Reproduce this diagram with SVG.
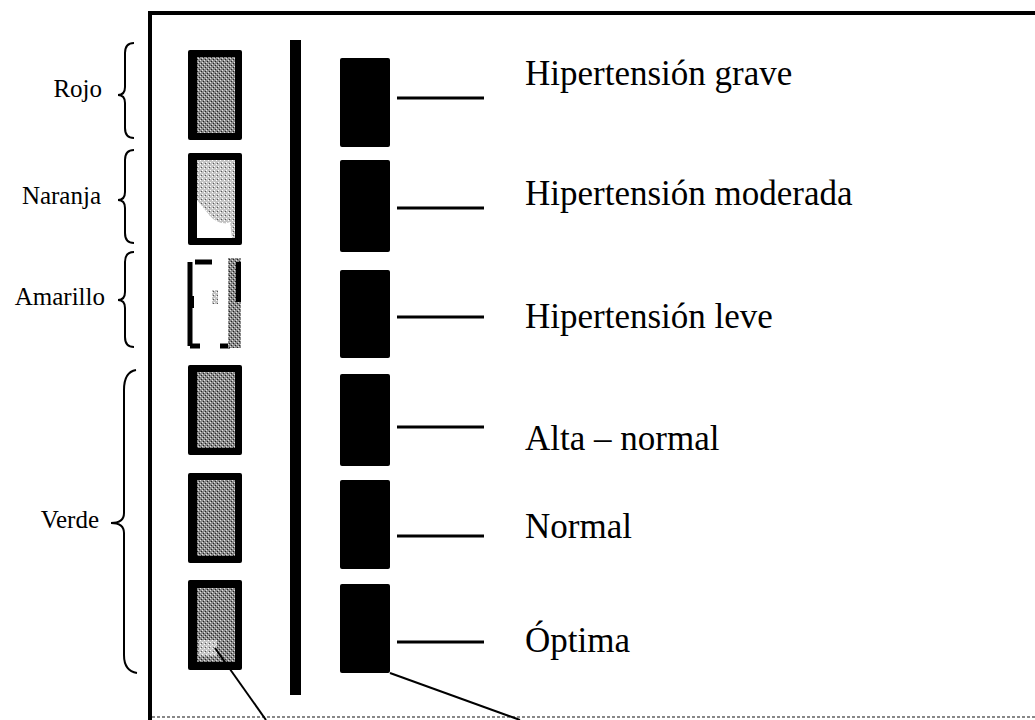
<svg xmlns="http://www.w3.org/2000/svg" width="1035" height="720" viewBox="0 0 1035 720">
<style>
.lbl{font-family:"Liberation Serif","Times New Roman",serif;font-size:25px;fill:#000;text-anchor:end}
.cat{font-family:"Liberation Serif","Times New Roman",serif;font-size:35px;fill:#000}
.brace{fill:none;stroke:#000;stroke-width:2}
.sw{fill:#000}
.bar{fill:#000}
.conn{stroke:#000;stroke-width:3;fill:none}
.ptr{stroke:#000;stroke-width:2;fill:none}
</style>
<defs>
<pattern id="dith" width="4" height="4" patternUnits="userSpaceOnUse">
<rect width="4" height="4" fill="#8a8a8a"/>
<rect width="1" height="1" fill="#e0e0e0"/>
<rect x="2" y="2" width="1" height="1" fill="#e0e0e0"/>
<rect x="1" y="3" width="1" height="1" fill="#222"/>
<rect x="3" y="1" width="1" height="1" fill="#222"/>
</pattern>
<pattern id="dithL" width="4" height="4" patternUnits="userSpaceOnUse">
<rect width="4" height="4" fill="#c4c4c4"/>
<rect width="1" height="1" fill="#fff"/>
<rect x="2" y="2" width="1" height="1" fill="#fff"/>
<rect x="1" y="3" width="1" height="1" fill="#555"/>
</pattern>
</defs>
<rect width="1035" height="720" fill="#fff"/>

<g id="frame">
<line x1="150" y1="11" x2="150" y2="720" stroke="#000" stroke-width="4"/>
<line x1="148" y1="13" x2="1035" y2="13" stroke="#000" stroke-width="4"/>
<line x1="152" y1="717" x2="1035" y2="717" stroke="#888" stroke-width="2" stroke-dasharray="3 2"/>
</g>

<g id="group-rojo">
<path class="brace" d="M134 43 Q125 43 125 53 L125 87 Q125 95 118 95 Q125 95 125 103 L125 128 Q125 138 134 138"/>
<text class="lbl" x="102" y="97">Rojo</text>
</g>
<g id="group-naranja">
<path class="brace" d="M134 150 Q125 150 125 160 L125 192 Q125 200 118 200 Q125 200 125 208 L125 233 Q125 243 134 243"/>
<text class="lbl" x="101" y="204">Naranja</text>
</g>
<g id="group-amarillo">
<path class="brace" d="M134 252 Q125 252 125 262 L125 292 Q125 300 118 300 Q125 300 125 308 L125 337 Q125 347 134 347"/>
<text class="lbl" x="105" y="305">Amarillo</text>
</g>
<g id="group-verde">
<path class="brace" d="M136 370 Q124 372 124 390 L124 513 Q124 523 111 523 Q124 523 124 533 L124 655 Q124 671 137 673"/>
<text class="lbl" x="99" y="528">Verde</text>
</g>

<g id="swatch-1">
<rect class="sw" x="188" y="50" width="54" height="90" rx="2"/>
<rect x="197" y="57" width="38" height="76" fill="url(#dith)"/>
</g>
<g id="swatch-2">
<rect class="sw" x="188" y="153" width="54" height="92" rx="2"/>
<rect x="197" y="160" width="38" height="78" fill="url(#dithL)"/>
<path d="M197 200 Q205 210 212 218 Q222 226 230 222 L232 238 L197 238 Z" fill="#fff"/>
</g>
<g id="swatch-3">
<path d="M195 262 L212 262 M190 262 L190 346 M190 346 L200 346 M220 346 L230 346" stroke="#000" stroke-width="5" fill="none"/>
<rect x="188" y="296" width="6" height="12" fill="#000"/>
<rect x="228" y="258" width="13" height="90" fill="url(#dith)"/>
<rect x="236" y="262" width="5" height="40" fill="#000"/>
<rect x="212" y="290" width="6" height="14" fill="url(#dithL)"/>
</g>
<g id="swatch-4">
<rect class="sw" x="188" y="365" width="54" height="90" rx="2"/>
<rect x="197" y="372" width="38" height="76" fill="url(#dith)"/>
</g>
<g id="swatch-5">
<rect class="sw" x="188" y="473" width="54" height="90" rx="2"/>
<rect x="197" y="480" width="38" height="76" fill="url(#dith)"/>
</g>
<g id="swatch-6">
<rect class="sw" x="188" y="580" width="54" height="90" rx="2"/>
<rect x="197" y="588" width="38" height="74" fill="url(#dith)"/>
<rect x="199" y="640" width="18" height="16" fill="url(#dithL)"/>
</g>

<g id="scale-bar">
<rect class="bar" x="290" y="40" width="11" height="655"/>
</g>

<g id="level-1">
<rect class="bar" x="340" y="58" width="50" height="89" rx="2"/>
<text class="cat" x="525" y="85">Hipertensión grave</text>
</g>
<g id="level-2">
<rect class="bar" x="340" y="160" width="50" height="92" rx="2"/>
<text class="cat" x="525" y="205">Hipertensión moderada</text>
</g>
<g id="level-3">
<rect class="bar" x="340" y="270" width="50" height="88" rx="2"/>
<text class="cat" x="525" y="328">Hipertensión leve</text>
</g>
<g id="level-4">
<rect class="bar" x="340" y="374" width="50" height="92" rx="2"/>
<text class="cat" x="525" y="450">Alta – normal</text>
</g>
<g id="level-5">
<rect class="bar" x="340" y="480" width="50" height="89" rx="2"/>
<text class="cat" x="525" y="538">Normal</text>
</g>
<g id="level-6">
<rect class="bar" x="340" y="584" width="50" height="89" rx="2"/>
<text class="cat" x="525" y="652">Óptima</text>
</g>

<g id="connectors">
<line class="conn" x1="397" y1="98" x2="484" y2="98"/>
<line class="conn" x1="397" y1="208" x2="484" y2="208"/>
<line class="conn" x1="397" y1="317" x2="484" y2="317"/>
<line class="conn" x1="397" y1="427" x2="484" y2="427"/>
<line class="conn" x1="397" y1="536" x2="484" y2="536"/>
<line class="conn" x1="397" y1="642" x2="484" y2="642"/>
<line class="ptr" x1="215" y1="648" x2="266" y2="720"/>
<line class="ptr" x1="390" y1="673" x2="520" y2="720"/>
</g>
</svg>
